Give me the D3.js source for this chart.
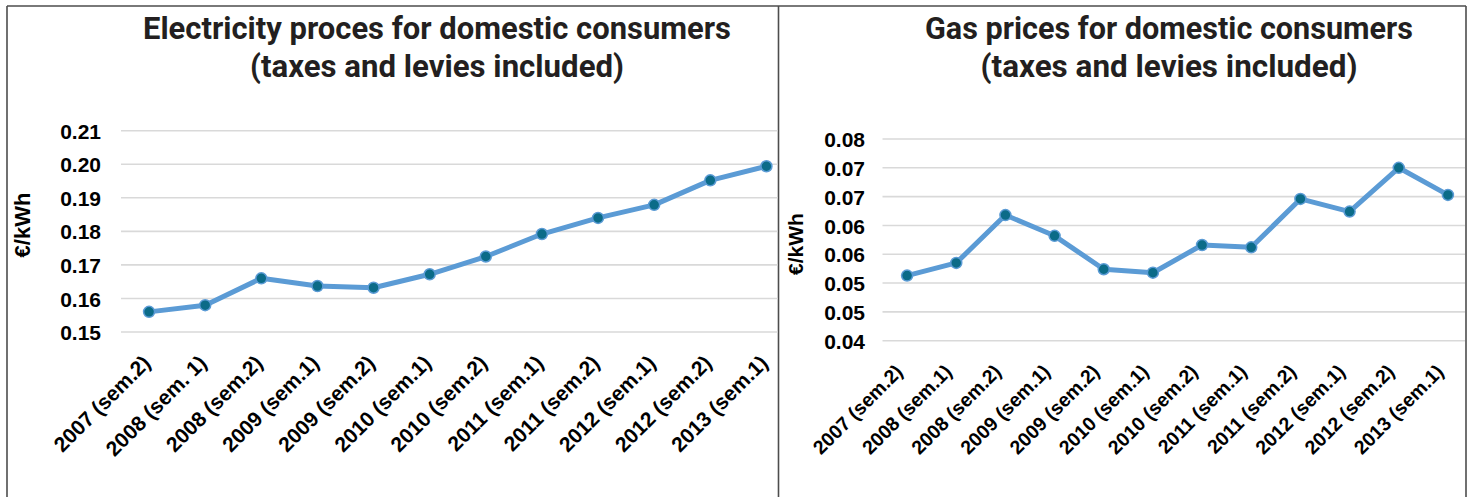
<!DOCTYPE html>
<html>
<head>
<meta charset="utf-8">
<script src="https://cdn.jsdelivr.net/npm/d3@7"></script>
<style>
  html, body { margin: 0; padding: 0; background: #fff; }
  svg { display: block; }
</style>
</head>
<body>
<svg id="chart" width="1471" height="497"></svg>
<script>
// ---------- data ----------
const elecCategories = ["2007 (sem.2)", "2008 (sem. 1)", "2008 (sem.2)", "2009 (sem.1)", "2009 (sem.2)", "2010 (sem.1)",
  "2010 (sem.2)", "2011 (sem.1)", "2011 (sem.2)", "2012 (sem.1)", "2012 (sem.2)", "2013 (sem.1)"];
const elecValues = [0.1560, 0.1580, 0.1660, 0.1637, 0.1632, 0.1672, 0.1725, 0.1792, 0.1840, 0.1879, 0.1952, 0.1994];
const elecTicks = [0.15, 0.16, 0.17, 0.18, 0.19, 0.20, 0.21];
const elecTickLabels = ["0.15", "0.16", "0.17", "0.18", "0.19", "0.20", "0.21"];

const gasCategories = ["2007 (sem.2)", "2008 (sem.1)", "2008 (sem.2)", "2009 (sem.1)", "2009 (sem.2)", "2010 (sem.1)",
  "2010 (sem.2)", "2011 (sem.1)", "2011 (sem.2)", "2012 (sem.1)", "2012 (sem.2)", "2013 (sem.1)"];
const gasValues = [0.0513, 0.0535, 0.0618, 0.0582, 0.0524, 0.0518, 0.0566, 0.0562, 0.0646, 0.0624, 0.0700, 0.0653];
const gasTicks = [0.040, 0.045, 0.050, 0.055, 0.060, 0.065, 0.070, 0.075];
const gasTickLabels = ["0.04", "0.05", "0.05", "0.06", "0.06", "0.07", "0.07", "0.08"];

const titlesElec = ["Electricity proces for domestic consumers", "(taxes and levies included)"];
const titlesGas = ["Gas prices for domestic consumers", "(taxes and levies included)"];
const yTitle = "€/kWh";

// ---------- styles ----------
const LINE_COLOR = "#5b9bd5";
const MARKER_FILL = "#0b6b88";
const GRID_COLOR = "#d9d9d9";
const FRAME_COLOR = "#4d4d4d";
const TITLE_COLOR = "#231f20";
const TITLE_FONT = "Roboto, 'Open Sans', sans-serif";
const LABEL_FONT = "'Liberation Sans', Arial, sans-serif";

const svg = d3.select("#chart");

// frame
const frame = svg.append("g").attr("fill", "none").attr("stroke", FRAME_COLOR).attr("stroke-width", 1.6);
frame.append("line").attr("x1", 7).attr("x2", 1466).attr("y1", 6).attr("y2", 6);
frame.append("line").attr("x1", 7).attr("x2", 7).attr("y1", 6).attr("y2", 497);
frame.append("line").attr("x1", 778.5).attr("x2", 778.5).attr("y1", 6).attr("y2", 497);
frame.append("line").attr("x1", 1466).attr("x2", 1466).attr("y1", 6).attr("y2", 497);

function panel(cfg) {
  const g = svg.append("g");
  const x = d3.scalePoint().domain(cfg.categories).range(cfg.xRange).padding(0.5);
  const y = d3.scaleLinear().domain(cfg.yDomain).range(cfg.yRange);

  // titles
  cfg.titles.forEach((t, i) => {
    g.append("text")
      .attr("x", cfg.titleX).attr("y", cfg.titleY[i])
      .attr("text-anchor", "middle")
      .attr("font-family", TITLE_FONT).attr("font-weight", 700)
      .attr("font-size", 31).attr("fill", TITLE_COLOR)
      .attr("textLength", cfg.titleW[i]).attr("lengthAdjust", "spacingAndGlyphs")
      .text(t);
  });

  // gridlines
  g.append("g").selectAll("line").data(cfg.ticks).join("line")
    .attr("x1", cfg.xRange[0]).attr("x2", cfg.gridEnd)
    .attr("y1", d => y(d)).attr("y2", d => y(d))
    .attr("stroke", GRID_COLOR).attr("stroke-width", 1.6);

  // y axis labels
  const yAxis = d3.axisLeft(y).tickValues(cfg.ticks)
    .tickFormat((d, i) => cfg.tickLabels[i]).tickSize(0).tickPadding(0);
  const ya = g.append("g").attr("transform", `translate(${cfg.yLabelX},0)`).call(yAxis);
  ya.select(".domain").remove();
  ya.selectAll("text")
    .attr("font-family", LABEL_FONT).attr("font-weight", 700)
    .attr("font-size", 21).attr("fill", "#000").attr("dy", "0.36em");

  // y title
  g.append("text")
    .attr("transform", `translate(${cfg.yTitleX},${cfg.yTitleY}) rotate(-90)`)
    .attr("text-anchor", "middle")
    .attr("font-family", LABEL_FONT).attr("font-weight", 700)
    .attr("font-size", cfg.yTitleFont).attr("fill", "#000")
    .text(yTitle);

  // x axis labels
  const xAxis = d3.axisBottom(x).tickSize(0).tickPadding(0);
  const xa = g.append("g").attr("transform", `translate(0,${cfg.xLabelY})`).call(xAxis);
  xa.select(".domain").remove();
  xa.selectAll("text")
    .attr("font-family", LABEL_FONT).attr("font-weight", 700)
    .attr("font-size", cfg.xFont).attr("fill", "#000")
    .attr("text-anchor", "end")
    .attr("y", 0)
    .attr("dy", "0.35em")
    .attr("transform", `translate(${cfg.xLabelDx},0) rotate(-45)`);

  // line
  const data = cfg.categories.map((c, i) => ({ c, v: cfg.values[i] }));
  g.append("path").datum(data)
    .attr("fill", "none").attr("stroke", LINE_COLOR).attr("stroke-width", 5)
    .attr("stroke-linejoin", "round").attr("stroke-linecap", "round")
    .attr("d", d3.line().x(d => x(d.c)).y(d => y(d.v)));

  g.append("g").selectAll("circle").data(data).join("circle")
    .attr("cx", d => x(d.c)).attr("cy", d => y(d.v)).attr("r", 5.5)
    .attr("fill", MARKER_FILL).attr("stroke", LINE_COLOR).attr("stroke-width", 1.5);
}

panel({
  categories: elecCategories, values: elecValues,
  ticks: elecTicks, tickLabels: elecTickLabels,
  xRange: [121, 794.5], gridEnd: 777.5,
  yDomain: [0.15, 0.21], yRange: [332, 130.7],
  titles: titlesElec, titleX: 437, titleY: [39, 77], titleW: [588, 374],
  yLabelX: 101, yTitleX: 30, yTitleY: 225, yTitleFont: 22,
  xLabelY: 359, xLabelDx: -3, xFont: 21
});

panel({
  categories: gasCategories, values: gasValues,
  ticks: gasTicks, tickLabels: gasTickLabels,
  xRange: [882.5, 1472.5], gridEnd: 1465,
  yDomain: [0.04, 0.075], yRange: [340.7, 139],
  titles: titlesGas, titleX: 1169, titleY: [39, 77], titleW: [488, 377],
  yLabelX: 865, yTitleX: 803, yTitleY: 244, yTitleFont: 21,
  xLabelY: 368, xLabelDx: -8.5, xFont: 19.5
});
</script>
</body>
</html>
